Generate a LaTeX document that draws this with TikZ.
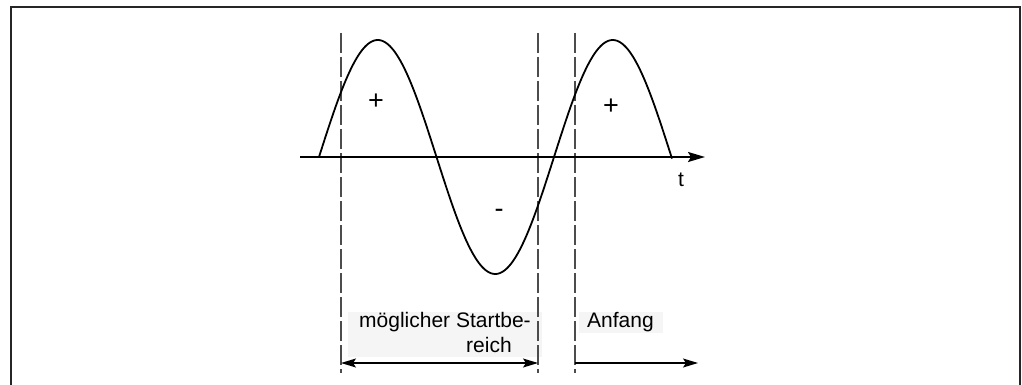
\documentclass[tikz,border=0pt]{standalone}
\usepackage{fontspec}
\setmainfont{Liberation Sans}
\usetikzlibrary{arrows.meta}
\begin{document}
\begin{tikzpicture}[x=1pt,y=-1pt,
  >={Stealth[length=15pt,width=9pt,inset=3pt]},
  frameline/.style={line width=2pt,black!85},
  curveline/.style={line width=1.8pt},
  dashline/.style={line width=1.2pt,black!70,dash pattern=on 20pt off 4pt},
  arrowline/.style={line width=1.3pt},
  lbl/.style={inner sep=0pt,font=\fontsize{21pt}{25pt}\selectfont},
  sym/.style={inner sep=0pt,font=\fontsize{27pt}{30pt}\selectfont},
  greybox/.style={fill=black!4,draw=none}]
\useasboundingbox (0,0) rectangle (1022,385);
% frame
\coordinate (fbl) at (11,386);
\coordinate (ftl) at (11,7);
\coordinate (ftr) at (1020,7);
\coordinate (fbr) at (1020,386);
\draw[frameline] (fbl) -- (ftl) -- (ftr) -- (fbr);
% grey label backgrounds
\fill[greybox] (348,312) rectangle (542,357);
\fill[greybox] (579,312) rectangle (663,333);
% dashed lines
\coordinate (d1t) at (341,33); \coordinate (d1b) at (341,373);
\coordinate (d2t) at (538,33); \coordinate (d2b) at (538,373);
\coordinate (d3t) at (575,33); \coordinate (d3b) at (575,373);
\draw[dashline] (d1t) -- (d1b);
\draw[dashline] (d2t) -- (d2b);
\draw[dashline] (d3t) -- (d3b);
% axis
\coordinate (ax0) at (300,157);
\coordinate (ax1) at (705,157);
\draw[curveline,-{Stealth[length=17pt,width=10pt,inset=3pt]}] (ax0) -- (ax1);
% sine curve
\draw[curveline] plot[domain=0:353,samples=200] ({319+\x},{157-117*sin(\x*1.531915)});
% labels
\node[sym] (p1) at (376,102) {+};
\node[sym] (p2) at (611,107) {+};
\node[sym] (m1) at (499,213) {-};
\node[lbl,anchor=base] (t) at (681,186) {t};
\node[lbl,anchor=base west] (s1) at (359,327) {möglicher Startbe-};
\node[lbl,anchor=base west] (s2) at (466,352) {reich};
\node[lbl,anchor=base west] (an) at (587,327) {Anfang};
% arrows
\coordinate (a1l) at (341,363);
\coordinate (a1r) at (538,363);
\coordinate (a2l) at (575,363);
\coordinate (a2r) at (698,363);
\draw[arrowline,<->] (a1l) -- (a1r);
\draw[arrowline,->] (a2l) -- (a2r);
\end{tikzpicture}
\end{document}
